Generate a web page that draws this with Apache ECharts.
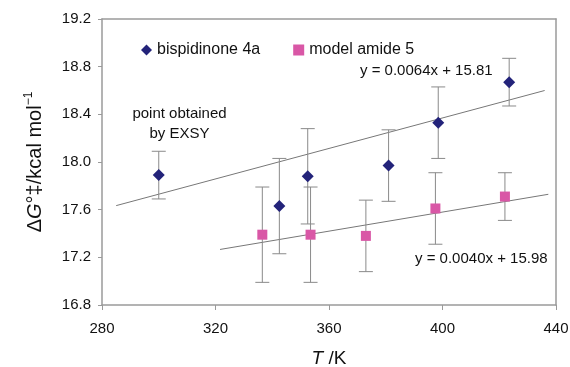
<!DOCTYPE html>
<html>
<head>
<meta charset="utf-8">
<script src="https://cdn.jsdelivr.net/npm/echarts@6/dist/echarts.min.js"></script>
<style>
  html, body { margin: 0; padding: 0; background: #fff; }
  #chart { width: 570px; height: 367px; }
</style>
</head>
<body>
<div id="chart"></div>
<script>
// bispidinone 4a
const blueT = [300, 342.5, 352.5, 381, 398.5, 423.5];
const blueG = [17.89, 17.63, 17.88, 17.97, 18.33, 18.67];
const blueErr = [0.2, 0.4, 0.4, 0.3, 0.3, 0.2];

// model amide 5
const pinkT = [336.5, 353.5, 373, 397.5, 422];
const pinkG = [17.39, 17.39, 17.38, 17.61, 17.71];
const pinkErr = [0.4, 0.4, 0.3, 0.3, 0.2];

// trendline end points as drawn
const blueTrend = [[285, 17.634], [436, 18.60]];
const pinkTrend = [[321.6, 17.266], [437.3, 17.729]];

const xTicks = [280, 440, 40];
const yTicks = [16.8, 19.2, 0.4];

const FONT = '"Liberation Sans", Arial, sans-serif';
const AXIS_GRAY = '#9a9a9a';

const toPts = (xs, ys) => xs.map((x, i) => [x, ys[i]]);
const toErr = (xs, ys, es) => xs.map((x, i) => [x, ys[i] - es[i], ys[i] + es[i]]);

// 오차 막대
function errorBar(params, api) {
  const lo = api.coord([api.value(0), api.value(1)]);
  const hi = api.coord([api.value(0), api.value(2)]);
  const w = 7;
  const style = { stroke: '#8a8a8a', lineWidth: 1 };
  return {
    type: 'group',
    children: [
      { type: 'line', shape: { x1: lo[0], y1: lo[1], x2: hi[0], y2: hi[1] }, style },
      { type: 'line', shape: { x1: lo[0] - w, y1: lo[1], x2: lo[0] + w, y2: lo[1] }, style },
      { type: 'line', shape: { x1: hi[0] - w, y1: hi[1], x2: hi[0] + w, y2: hi[1] }, style }
    ]
  };
}

// frame line on the opposite side (top / right)
const frameAxis = (pos, range) => ({
  type: 'value', position: pos, min: range[0], max: range[1],
  axisLine: { show: true, lineStyle: { color: AXIS_GRAY, width: 1.5 } },
  axisTick: { show: false }, axisLabel: { show: false }, splitLine: { show: false }
});

const chart = echarts.init(document.getElementById('chart'));
const option = {
  animation: false,
  textStyle: { fontFamily: FONT },
  grid: { left: 102, right: 14, top: 19, bottom: 62, outerBoundsMode: 'none', containLabel: false },
  legend: {
    left: 136, top: 37,
    itemWidth: 11, itemHeight: 11, itemGap: 33,
    textStyle: { fontSize: 16, color: '#111', fontFamily: FONT },
    data: ['bispidinone 4a', 'model amide 5']
  },
  xAxis: [{
    type: 'value',
    min: xTicks[0], max: xTicks[1], interval: xTicks[2],
    axisLine: { lineStyle: { color: AXIS_GRAY, width: 1.5 } },
    axisTick: { length: 5, lineStyle: { color: AXIS_GRAY } },
    splitLine: { show: false },
    axisLabel: { fontSize: 15, color: '#111', margin: 16, fontFamily: FONT },
    name: '{i|T} /K',
    nameLocation: 'middle',
    nameGap: 44,
    nameTextStyle: {
      fontSize: 19, color: '#111', fontFamily: FONT,
      rich: { i: { fontSize: 19, fontStyle: 'italic', color: '#111', fontFamily: FONT } }
    }
  }, frameAxis('top', [xTicks[0], xTicks[1]])],
  yAxis: [{
    type: 'value',
    min: yTicks[0], max: yTicks[1], interval: yTicks[2],
    axisLine: { show: true, lineStyle: { color: AXIS_GRAY, width: 1.5 } },
    axisTick: { show: true, length: 4, lineStyle: { color: AXIS_GRAY } },
    splitLine: { show: false },
    axisLabel: {
      fontSize: 15, color: '#111', margin: 11, fontFamily: FONT,
      formatter: v => v.toFixed(1)
    },
    name: '\u0394{i|G}\u00b0\u2021/kcal mol{s|\u22121}',
    nameLocation: 'middle',
    nameRotate: 90,
    nameGap: 55,
    nameTextStyle: {
      fontSize: 20, color: '#111', fontFamily: FONT,
      rich: {
        i: { fontSize: 20, fontStyle: 'italic', color: '#111', fontFamily: FONT },
        s: { fontSize: 12, color: '#111', fontFamily: FONT, verticalAlign: 'top', lineHeight: 24 }
      }
    }
  }, frameAxis('right', [yTicks[0], yTicks[1]])],
  graphic: [
    { type: 'text', x: 179.5, y: 104, z: 10,
      style: { text: 'point obtained\nby EXSY', font: '15px ' + FONT, fill: '#111',
               lineHeight: 20, align: 'center' } },
    { type: 'text', left: 360, top: 63, z: 10,
      style: { text: 'y = 0.0064x + 15.81', font: '15px ' + FONT, fill: '#111' } },
    { type: 'text', left: 415, top: 251, z: 10,
      style: { text: 'y = 0.0040x + 15.98', font: '15px ' + FONT, fill: '#111' } }
  ],
  series: [
    {
      type: 'line', data: blueTrend, symbol: 'none', silent: true,
      lineStyle: { color: '#777', width: 1 }, z: 1
    },
    {
      type: 'line', data: pinkTrend, symbol: 'none', silent: true,
      lineStyle: { color: '#777', width: 1 }, z: 1
    },
    { type: 'custom', data: toErr(blueT, blueG, blueErr), renderItem: errorBar, z: 2 },
    { type: 'custom', data: toErr(pinkT, pinkG, pinkErr), renderItem: errorBar, z: 2 },
    {
      name: 'bispidinone 4a', type: 'scatter', data: toPts(blueT, blueG),
      symbol: 'diamond', symbolSize: 12, itemStyle: { color: '#23237a', opacity: 1 }, z: 5
    },
    {
      name: 'model amide 5', type: 'scatter', data: toPts(pinkT, pinkG),
      symbol: 'rect', symbolSize: 10, itemStyle: { color: '#d957a6', opacity: 1 }, z: 5
    }
  ]
};
chart.setOption(option);
</script>
</body>
</html>
